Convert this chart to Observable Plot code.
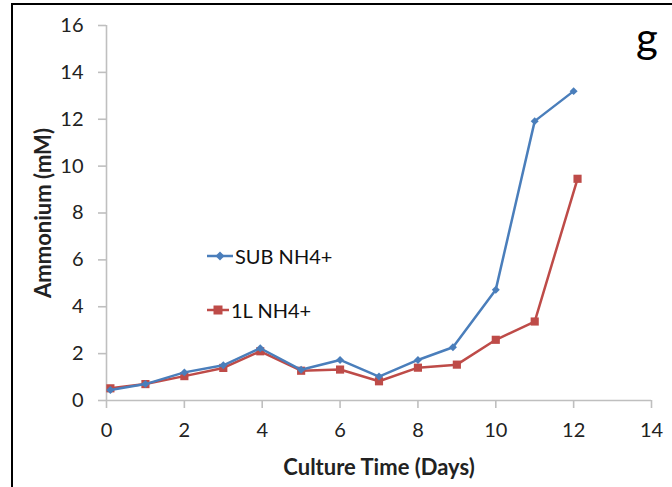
<!DOCTYPE html>
<html>
<head>
<meta charset="utf-8">
<script src="https://cdn.jsdelivr.net/npm/d3@7"></script>
<script src="https://cdn.jsdelivr.net/npm/@observablehq/plot@0.6"></script>
<style>
  html, body { margin: 0; padding: 0; background: #fff; overflow: hidden; }
  body { width: 672px; height: 487px; position: relative; font-family: Lato, "Open Sans", sans-serif; }
  #frame { position: absolute; left: 11px; top: 3px; width: 700px; height: 520px; border: 2px solid #000; box-sizing: border-box; pointer-events: none; }
  #chart { position: absolute; left: 0; top: 0; }
  .leg { position: absolute; font-size: 20px; color: #111; display: flex; align-items: center; white-space: nowrap; }
  .leg svg { margin-right: 2px; }
  #tag { position: absolute; left: 636px; top: 16px; font-size: 42px; color: #000; line-height: 1; }
</style>
</head>
<body>
<div id="chart"></div>
<div id="frame"></div>
<div id="tag">g</div>
<div id="legend"></div>
<script>
// Culture time (days) and ammonium (mM)
const subDays = [0.1, 1, 2, 3, 3.95, 5, 6, 7, 8, 8.9, 10, 11, 12];
const subNH4  = [0.45, 0.7, 1.2, 1.5, 2.23, 1.31, 1.73, 1.02, 1.73, 2.27, 4.73, 11.92, 13.2];
const oneLDays = [0.1, 1, 2, 3, 3.95, 5, 6, 7, 8, 9, 10, 11, 12.1];
const oneLNH4  = [0.52, 0.7, 1.04, 1.39, 2.1, 1.27, 1.32, 0.82, 1.4, 1.53, 2.59, 3.37, 9.46];
const seriesNames = ["SUB NH4+", "1L NH4+"];
const seriesColors = ["#4a7ebb", "#be4b48"];
const xTicks = [0, 2, 4, 6, 8, 10, 12, 14];
const yTicks = [0, 2, 4, 6, 8, 10, 12, 14, 16];
const xLabel = "Culture Time (Days)";
const yLabel = "Ammonium (mM)";

const sub = subDays.map((d, i) => ({day: d, v: subNH4[i]}));
const oneL = oneLDays.map((d, i) => ({day: d, v: oneLNH4[i]}));

const axisGray = "#bfbfbf";
const chart = Plot.plot({
  width: 672,
  height: 487,
  marginLeft: 106,
  marginRight: 21,
  marginTop: 25,
  marginBottom: 87,
  style: {fontFamily: "Lato, 'Open Sans', sans-serif", background: "transparent", overflow: "visible"},
  x: {domain: [0, 14]},
  y: {domain: [0, 16]},
  marks: [
    Plot.ruleX([0], {stroke: axisGray, strokeWidth: 1.6}),
    Plot.ruleY([0], {stroke: axisGray, strokeWidth: 1.6}),
    Plot.axisX({ticks: xTicks, tickSize: 8, tickPadding: 14, stroke: axisGray, strokeWidth: 1.6, fill: "#222", fontSize: 20, label: null, tickFormat: d => String(d)}),
    Plot.axisY({ticks: yTicks, tickSize: 8, tickPadding: 15, stroke: axisGray, strokeWidth: 1.6, fill: "#222", fontSize: 20, label: null, tickFormat: d => String(d)}),
    Plot.text([xLabel], {frameAnchor: "bottom", dy: 67, text: d => d, fontSize: 22, fontWeight: "bold", fill: "#222", textAnchor: "middle", lineAnchor: "middle"}),
    Plot.text([yLabel], {frameAnchor: "left", dx: -63, text: d => d, rotate: -90, fontSize: 22, fontWeight: "bold", fill: "#222", textAnchor: "middle", lineAnchor: "middle"}),
    Plot.line(oneL, {x: "day", y: "v", stroke: seriesColors[1], strokeWidth: 2.5}),
    Plot.dot(oneL, {x: "day", y: "v", symbol: "square", r: 4.6, fill: seriesColors[1], stroke: "none"}),
    Plot.line(sub, {x: "day", y: "v", stroke: seriesColors[0], strokeWidth: 2.5}),
    Plot.dot(sub, {x: "day", y: "v", symbol: "diamond2", r: 3.6, fill: seriesColors[0], stroke: "none"})
  ]
});
document.getElementById("chart").appendChild(chart);

// Legend (inside plot area, like the original)
const legend = document.getElementById("legend");
const legPos = [{left: 207, top: 243}, {left: 207, top: 297}];
seriesNames.forEach((name, i) => {
  const div = document.createElement("div");
  div.className = "leg";
  div.style.left = legPos[i].left + "px";
  div.style.top = legPos[i].top + "px";
  const w = i === 0 ? 26 : 22;
  const marker = i === 0
    ? `<path d="M${w/2},${13-4.5}L${w/2+4.5},13L${w/2},${13+4.5}L${w/2-4.5},13Z" fill="${seriesColors[i]}"/>`
    : `<rect x="${w/2-4.5}" y="${13-4.5}" width="9" height="9" fill="${seriesColors[i]}"/>`;
  div.innerHTML = `<svg width="${w}" height="26"><line x1="0" x2="${w}" y1="13" y2="13" stroke="${seriesColors[i]}" stroke-width="2.5"/>${marker}</svg><span>${name}</span>`;
  legend.appendChild(div);
});
</script>
</body>
</html>
